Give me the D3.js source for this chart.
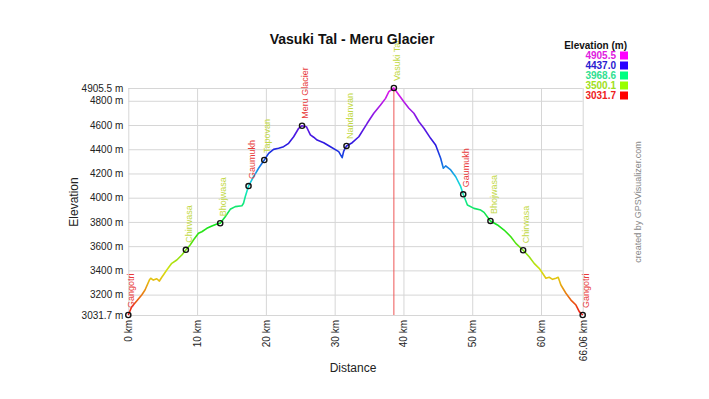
<!DOCTYPE html>
<html>
<head>
<meta charset="utf-8">
<script src="https://cdn.jsdelivr.net/npm/d3@7"></script>
<style>
  body { margin: 0; background: #fff; }
  text { font-family: "Liberation Sans", Arial, sans-serif; }
</style>
</head>
<body>
<div id="chart"></div>
<script>
// profile: distance (km) and elevation (m)
var distKm = [0, 0.50, 1.22, 1.95, 2.43, 3.06, 3.26, 3.64, 4.14, 4.52, 4.87, 5.10, 5.59, 6.32, 7.05, 7.78, 8.36,
  8.99, 9.47, 10.20, 10.69, 11.42, 12.15, 12.88, 13.36, 14.09, 14.82, 15.55, 16.52, 16.75, 17.00, 17.48,
  18.21, 18.94, 19.77, 20.40, 21.12, 21.85, 22.58, 23.31, 24.04, 24.77, 25.26, 25.89, 26.47, 26.95, 27.45,
  28.41, 29.39, 30.59, 31.09, 31.32, 31.72, 32.55, 33.51, 34.73, 35.69, 36.67, 37.40, 37.88, 38.61,
  39.34, 40.06, 40.79, 41.52, 42.25, 42.98, 43.95, 44.68, 45.41, 45.80, 46.14, 46.87, 47.60, 48.33, 48.69,
  49.30, 50.26, 51.24, 51.72, 52.65, 53.67, 54.63, 55.61, 56.34, 57.40, 58.28, 59.00, 59.73, 60.23, 60.71,
  61.19, 61.68, 62.17, 62.50, 62.89, 63.62, 64.35, 65.08, 65.56, 66.06];
var elevM = [3031.7, 3100, 3147, 3197, 3238, 3320, 3335, 3320, 3331, 3312, 3343, 3362, 3403, 3458, 3486, 3527, 3568,
  3610, 3651, 3706, 3719, 3747, 3766, 3783, 3789, 3843, 3904, 3926, 3934, 3954, 4008, 4096,
  4173, 4243, 4311, 4366, 4399, 4408, 4421, 4449, 4503, 4573, 4594, 4586, 4518, 4499, 4476,
  4454, 4421, 4380, 4330, 4385, 4427, 4454, 4503, 4614, 4697, 4765, 4820, 4875, 4905.5,
  4848, 4792, 4738, 4697, 4627, 4573, 4490, 4435, 4325, 4243, 4262, 4229, 4173, 4091, 4028,
  3940, 3912, 3898, 3879, 3808, 3775, 3733, 3678, 3623, 3566, 3513, 3458, 3417, 3376, 3335,
  3343, 3326, 3335, 3343, 3279, 3211, 3155, 3114, 3059, 3031.7];

// waypoints
var wpNames = ["Gangotri", "Chirwasa", "Bhojwasa", "Gaumukh", "Tapovan", "Meru Glacier", "Nandanvan", "Vasuki Tal",
  "Gaumukh", "Bhojwasa", "Chirwasa", "Gangotri"];
var wpKm = [0, 8.37, 13.36, 17.48, 19.77, 25.26, 31.72, 38.61, 48.69, 52.65, 57.40, 66.06];
var wpElev = [3031.7, 3570, 3789, 4096, 4311, 4594, 4427, 4905.5, 4028, 3808, 3566, 3031.7];
var wpRed = [true, false, false, true, false, true, false, false, true, false, false, true];

var xTicks = [0, 10, 20, 30, 40, 50, 60, 66.06];
var yTicks = [3031.7, 3200, 3400, 3600, 3800, 4000, 4200, 4400, 4600, 4800, 4905.5];
var legendValues = [4905.5, 4437.0, 3968.6, 3500.1, 3031.7];

var legendSwatch = ["#ff00ff", "#2a00ff", "#00ff80", "#99ff00", "#ff0000"];
var legendText = ["#e020e0", "#2a20d0", "#30e090", "#a0e020", "#ee2020"];

var width = 709, height = 399;
var plot = {left: 128.3, right: 582.7, top: 88, bottom: 315};

var svg = d3.select("#chart")
  .append("svg")
    .attr("width", width)
    .attr("height", height)
    .style("background", "#fff");

var x = d3.scaleLinear().domain([0, 66.06]).range([plot.left, plot.right]);
var y = d3.scaleLinear().domain([3031.7, 4905.5]).range([plot.bottom, plot.top]);

var color = d3.scaleLinear()
  .domain(legendValues.slice().reverse())
  .range(["#ee1111", "#99e011", "#11e888", "#2a18e0", "#e818e8"])
  .interpolate(d3.interpolateHsl);

// grid + y labels
var yAxis = svg.append("g")
  .attr("transform", "translate(" + plot.left + ",0)")
  .call(d3.axisLeft(y).tickValues(yTicks).tickSize(-(plot.right - plot.left)).tickPadding(5)
    .tickFormat(function(d) { return d + " m"; }));
yAxis.select(".domain").remove();
yAxis.selectAll("line").attr("stroke", "#d6d6d6");
yAxis.selectAll("text").attr("font-size", 10).attr("fill", "#222")
  .attr("font-family", "Liberation Sans, Arial, sans-serif");

var xAxis = svg.append("g")
  .attr("transform", "translate(0," + plot.bottom + ")")
  .call(d3.axisBottom(x).tickValues(xTicks).tickSize(-(plot.bottom - plot.top))
    .tickFormat(function(d) { return d + " km"; }));
xAxis.select(".domain").remove();
xAxis.selectAll("line").attr("stroke", "#d6d6d6");
xAxis.selectAll("text")
  .attr("font-size", 10).attr("fill", "#222")
  .attr("font-family", "Liberation Sans, Arial, sans-serif")
  .attr("x", 0).attr("y", 0).attr("dy", "0.35em")
  .attr("text-anchor", "end")
  .attr("transform", "translate(0,5) rotate(-90)");

// vertical line at the summit
var iMax = d3.maxIndex(elevM);
svg.append("line")
  .attr("x1", x(distKm[iMax])).attr("x2", x(distKm[iMax]))
  .attr("y1", plot.top).attr("y2", plot.bottom)
  .attr("stroke", "#ee5555").attr("stroke-width", 1);

// elevation-coloured gradient
var grad = svg.append("defs").append("linearGradient")
  .attr("id", "elevGrad")
  .attr("gradientUnits", "userSpaceOnUse")
  .attr("x1", 0).attr("x2", 0)
  .attr("y1", y(3031.7)).attr("y2", y(4905.5));
grad.selectAll("stop")
  .data(d3.range(0, 1.0001, 0.05))
  .enter().append("stop")
    .attr("offset", function(t) { return t; })
    .attr("stop-color", function(t) { return color(3031.7 + t * (4905.5 - 3031.7)); });

var pts = distKm.map(function(d, i) { return [d, elevM[i]]; });
svg.append("path")
  .datum(pts)
  .attr("fill", "none")
  .attr("stroke", "url(#elevGrad)")
  .attr("stroke-width", 1.6)
  .attr("stroke-linejoin", "round")
  .attr("d", d3.line().x(function(d) { return x(d[0]); }).y(function(d) { return y(d[1]); }));

// waypoints
var wp = wpNames.map(function(n, i) { return {name: n, km: wpKm[i], elev: wpElev[i], red: wpRed[i]}; });
svg.selectAll("circle.wp")
  .data(wp)
  .enter().append("circle")
    .attr("class", "wp")
    .attr("cx", function(d) { return x(d.km); })
    .attr("cy", function(d) { return y(d.elev); })
    .attr("r", 2.6)
    .attr("fill", "none")
    .attr("stroke", "#111")
    .attr("stroke-width", 1.4);

svg.selectAll("text.wpl")
  .data(wp)
  .enter().append("text")
    .attr("class", "wpl")
    .attr("transform", function(d) { return "translate(" + (x(d.km) + 3) + "," + (y(d.elev) - 7) + ") rotate(-90)"; })
    .attr("dy", "0.35em")
    .attr("font-size", 9)
    .attr("fill", function(d) { return d.red ? "#e83a3a" : "#c2d844"; })
    .text(function(d) { return d.name; });

// title and axis titles
svg.append("text")
  .attr("x", 352).attr("y", 44)
  .attr("text-anchor", "middle")
  .attr("font-size", 14).attr("font-weight", "bold").attr("fill", "#111")
  .text("Vasuki Tal - Meru Glacier");

svg.append("text")
  .attr("transform", "translate(74,202) rotate(-90)")
  .attr("dy", "0.35em")
  .attr("text-anchor", "middle")
  .attr("font-size", 12).attr("fill", "#222")
  .text("Elevation");

svg.append("text")
  .attr("x", 353).attr("y", 368)
  .attr("dy", "0.35em")
  .attr("text-anchor", "middle")
  .attr("font-size", 12).attr("fill", "#222")
  .text("Distance");

svg.append("text")
  .attr("transform", "translate(638,202) rotate(-90)")
  .attr("dy", "0.35em")
  .attr("text-anchor", "middle")
  .attr("font-size", 9).attr("fill", "#888")
  .text("created by GPSVisualizer.com");

// legend
svg.append("text")
  .attr("x", 627).attr("y", 45).attr("dy", "0.35em")
  .attr("text-anchor", "end")
  .attr("font-size", 10).attr("font-weight", "bold").attr("fill", "#111")
  .text("Elevation (m)");

var leg = svg.selectAll("g.leg")
  .data(legendValues)
  .enter().append("g")
    .attr("class", "leg")
    .attr("transform", function(d, i) { return "translate(0," + (55.5 + i * 10) + ")"; });
leg.append("text")
  .attr("x", 616).attr("dy", "0.35em")
  .attr("text-anchor", "end")
  .attr("font-size", 10).attr("font-weight", "bold")
  .attr("fill", function(d, i) { return legendText[i]; })
  .text(function(d) { return d.toFixed(1); });
leg.append("rect")
  .attr("x", 620).attr("y", -4)
  .attr("width", 8).attr("height", 8)
  .attr("fill", function(d, i) { return legendSwatch[i]; });
</script>
</body>
</html>
